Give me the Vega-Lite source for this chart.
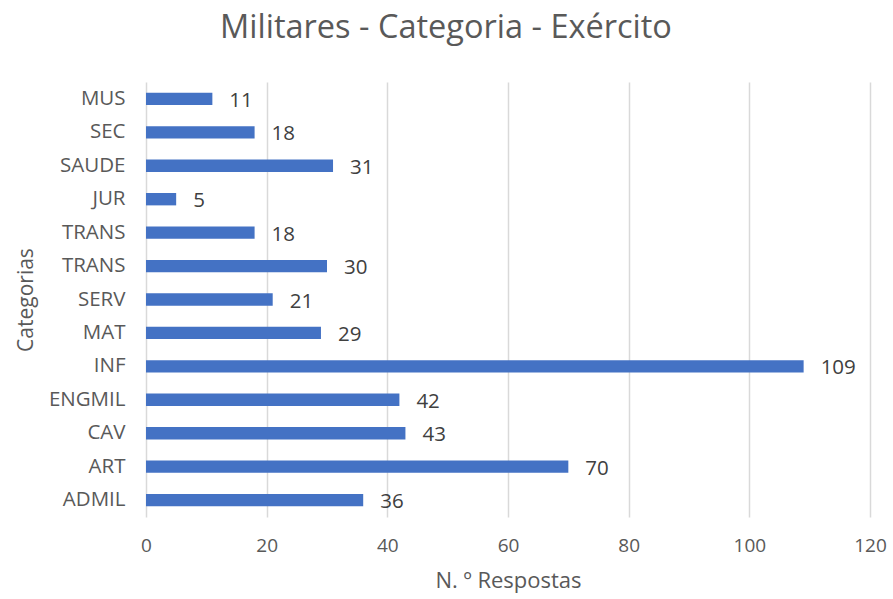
{
  "$schema": "https://vega.github.io/schema/vega-lite/v6.json",
  "width": 724,
  "height": 435,
  "autosize": {"type": "none"},
  "padding": {"left": 146, "top": 82, "right": 23, "bottom": 82},
  "background": "white",
  "title": {
    "text": "Militares - Categoria - Exército",
    "anchor": "middle",
    "frame": "group",
    "dx": -62,
    "offset": 38,
    "font": "Open Sans",
    "fontSize": 32.5,
    "fontWeight": "normal",
    "color": "#595959"
  },
  "data": {
    "values": [
      {"cat": "MUS", "n": 11},
      {"cat": "SEC", "n": 18},
      {"cat": "SAUDE", "n": 31},
      {"cat": "JUR", "n": 5},
      {"cat": "TRANS", "n": 18},
      {"cat": "TRANS\u200b", "n": 30},
      {"cat": "SERV", "n": 21},
      {"cat": "MAT", "n": 29},
      {"cat": "INF", "n": 109},
      {"cat": "ENGMIL", "n": 42},
      {"cat": "CAV", "n": 43},
      {"cat": "ART", "n": 70},
      {"cat": "ADMIL", "n": 36}
    ]
  },
  "encoding": {
    "y": {
      "field": "cat",
      "type": "nominal",
      "sort": null,
      "scale": {"paddingInner": 0.63, "paddingOuter": 0.32},
      "axis": {
        "title": "Categorias",
        "titleFont": "Open Sans",
        "titleFontSize": 21,
        "titleFontWeight": "normal",
        "titleColor": "#595959",
        "titlePadding": 12,
        "labelFont": "Open Sans",
        "labelFontSize": 20.5,
        "labelColor": "#595959",
        "labelPadding": 21,
        "ticks": false,
        "domain": false,
        "grid": false
      }
    },
    "x": {
      "field": "n",
      "type": "quantitative",
      "scale": {"domain": [0, 120]},
      "axis": {
        "title": "N. º Respostas",
        "titleFont": "Open Sans",
        "titleFontSize": 22,
        "titleFontWeight": "normal",
        "titleColor": "#595959",
        "titlePadding": 15,
        "labelFont": "Open Sans",
        "labelFontSize": 19,
        "labelColor": "#595959",
        "labelPadding": 19,
        "labelFlush": false,
        "values": [0, 20, 40, 60, 80, 100, 120],
        "ticks": false,
        "domain": false,
        "grid": true,
        "gridColor": "#d9d9d9",
        "gridWidth": 1.5
      }
    }
  },
  "layer": [
    {"mark": {"type": "bar", "color": "#4472c4"}},
    {
      "mark": {"type": "text", "align": "left", "baseline": "middle", "dx": 17, "dy": 2, "font": "Open Sans", "fontSize": 20.5, "color": "#404040"},
      "encoding": {"text": {"field": "n", "type": "quantitative"}}
    }
  ],
  "config": {"view": {"stroke": null}}
}
